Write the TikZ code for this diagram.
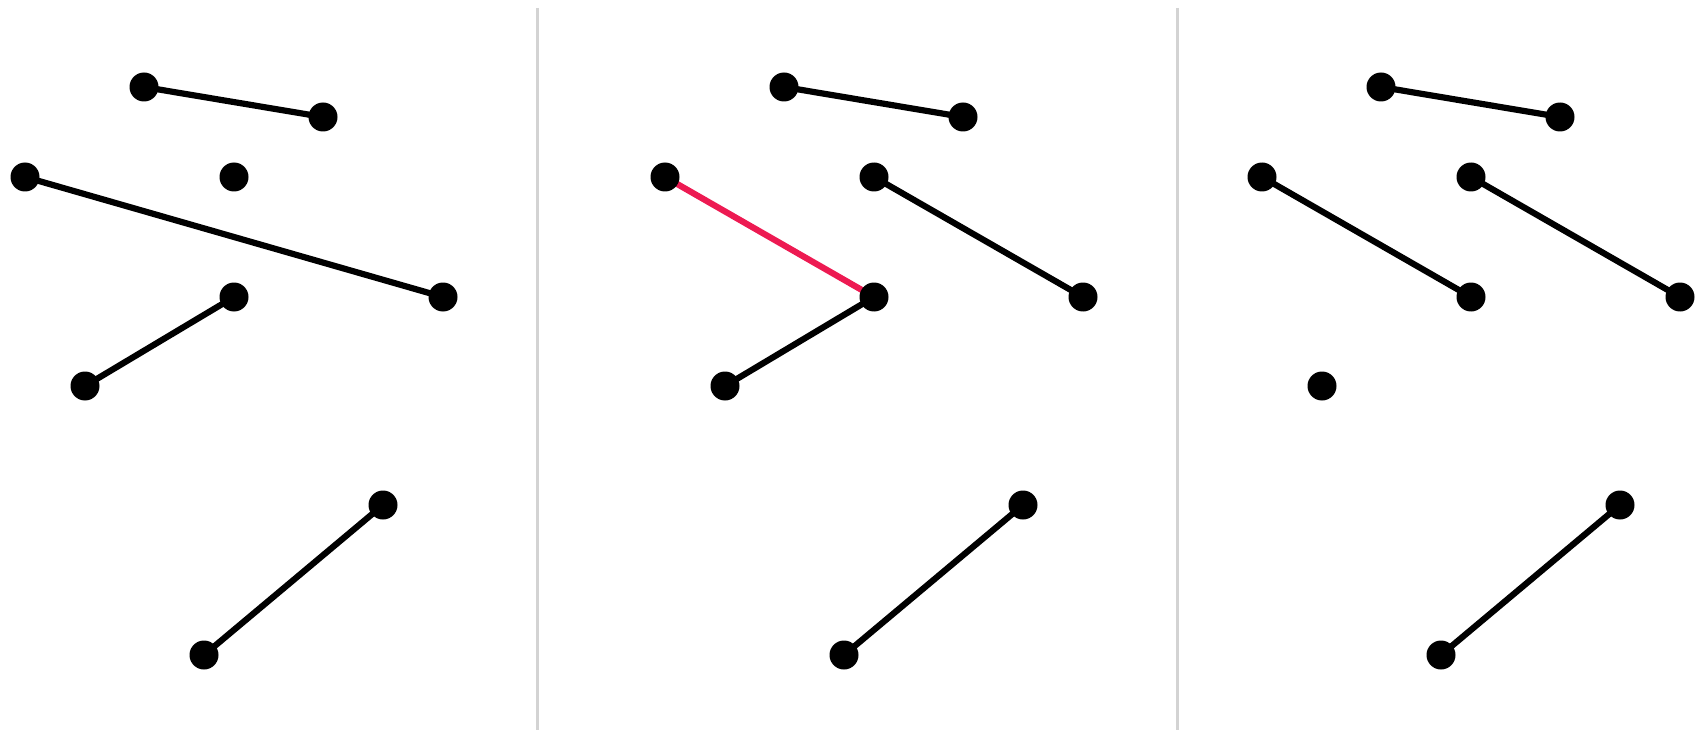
\documentclass[tikz,border=0pt]{standalone}
\usetikzlibrary{backgrounds}
\definecolor{hl}{RGB}{237,26,82}
\definecolor{divgray}{RGB}{211,211,211}
\tikzset{
  dot/.style={circle,fill=black,inner sep=0pt,minimum size=29pt},
  edge/.style={line width=6.2pt,black},
  hledge/.style={line width=6.2pt,hl},
  divider/.style={line width=3pt,divgray}
}
\begin{document}
\begin{tikzpicture}[x=1pt,y=-1pt]
\useasboundingbox (0,0) rectangle (1700,730);
\foreach \p/\o in {1/0,2/640,3/1237}{
  \begin{scope}[xshift=\o pt]
    \node[dot] (p\p A) at (144,87) {};
    \node[dot] (p\p B) at (323,117) {};
    \node[dot] (p\p C) at (25,177) {};
    \node[dot] (p\p D) at (234,177) {};
    \node[dot] (p\p E) at (443,297) {};
    \node[dot] (p\p F) at (234,297) {};
    \node[dot] (p\p G) at (85,386) {};
    \node[dot] (p\p H) at (383,505) {};
    \node[dot] (p\p I) at (204,655) {};
  \end{scope}
}
\coordinate (d1t) at (537,8);
\coordinate (d1b) at (537,730);
\coordinate (d2t) at (1177,8);
\coordinate (d2b) at (1177,730);
\begin{scope}[on background layer]
\draw[divider] (d1t) -- (d1b);
\draw[divider] (d2t) -- (d2b);
% panel 1
\draw[edge] (p1A.center) -- (p1B.center);
\draw[edge] (p1C.center) -- (p1E.center);
\draw[edge] (p1F.center) -- (p1G.center);
\draw[edge] (p1H.center) -- (p1I.center);
% panel 2
\draw[edge] (p2A.center) -- (p2B.center);
\draw[hledge] (p2C.center) -- (p2F.center);
\draw[edge] (p2D.center) -- (p2E.center);
\draw[edge] (p2F.center) -- (p2G.center);
\draw[edge] (p2H.center) -- (p2I.center);
% panel 3
\draw[edge] (p3A.center) -- (p3B.center);
\draw[edge] (p3C.center) -- (p3F.center);
\draw[edge] (p3D.center) -- (p3E.center);
\draw[edge] (p3H.center) -- (p3I.center);
\end{scope}
\end{tikzpicture}
\end{document}
